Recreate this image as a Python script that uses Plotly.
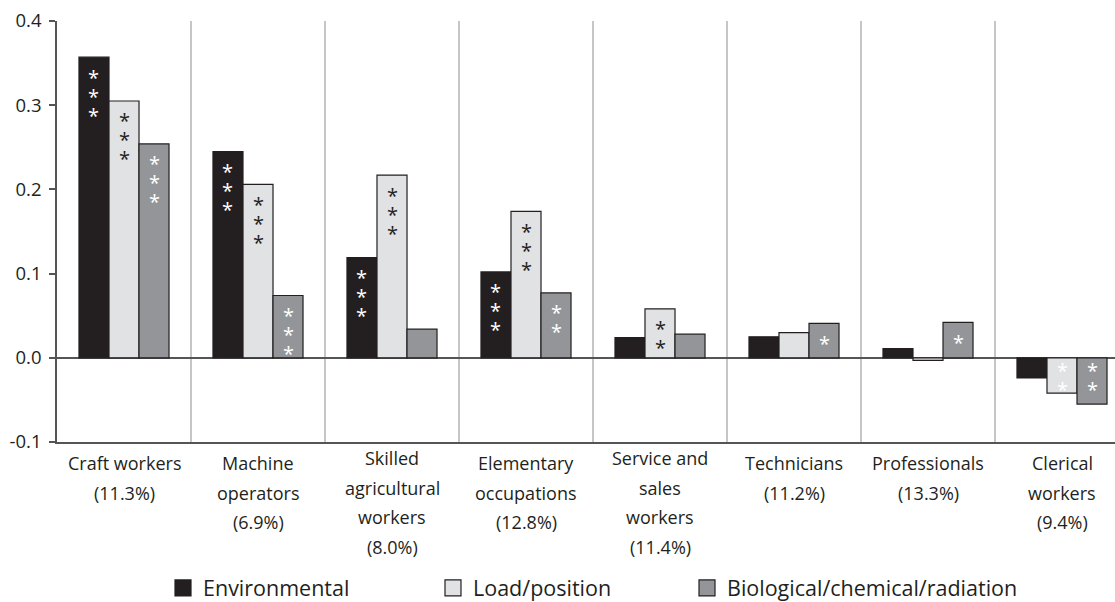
import plotly.graph_objects as go

# ---- data ----
categories = [
    ["Craft workers", "(11.3%)"],
    ["Machine", "operators", "(6.9%)"],
    ["Skilled", "agricultural", "workers", "(8.0%)"],
    ["Elementary", "occupations", "(12.8%)"],
    ["Service and", "sales", "workers", "(11.4%)"],
    ["Technicians", "(11.2%)"],
    ["Professionals", "(13.3%)"],
    ["Clerical", "workers", "(9.4%)"],
]
series_names = ["Environmental", "Load/position", "Biological/chemical/radiation"]
environmental = [0.357, 0.245, 0.119, 0.102, 0.024, 0.025, 0.011, -0.024]
load_position = [0.305, 0.206, 0.217, 0.174, 0.058, 0.030, -0.003, -0.042]
biological = [0.254, 0.074, 0.034, 0.077, 0.028, 0.041, 0.042, -0.055]
sig_environmental = ["***", "***", "***", "***", "", "", "", ""]
sig_load_position = ["***", "***", "***", "***", "**", "", "", "**"]
sig_biological = ["***", "***", "", "**", "", "*", "*", "**"]
y_tickvals = [-0.1, 0.0, 0.1, 0.2, 0.3, 0.4]
y_ticktext = ["-0.1", "0.0", "0.1", "0.2", "0.3", "0.4"]

# ---- styling ----
FONT = "Open Sans"
DARK = "#231f20"
AXIS = "#555555"
fills = ["#231f20", "#e1e2e4", "#939598"]
star_default = ["#ffffff", DARK, "#ffffff"]
white_star_override = {(7, 1)}  # clerical load/position stars drawn white

values = [environmental, load_position, biological]
sigs = [sig_environmental, sig_load_position, sig_biological]
n = len(categories)
xs = list(range(n))
bargap = 0.328
bw = (1 - bargap) / 3
legend_ids = ["legend", "legend2", "legend3"]

fig = go.Figure()
for j, (name, vals) in enumerate(zip(series_names, values)):
    fig.add_trace(go.Bar(
        x=xs, y=vals, name=name, showlegend=False,
        marker=dict(color=fills[j], line=dict(color=DARK, width=1.2)),
        hoverinfo="skip",
    ))
# legend entries (larger square swatches, as in the reference)
for j, name in enumerate(series_names):
    fig.add_trace(go.Scatter(
        x=[None], y=[None], mode="markers", name=name, legend=legend_ids[j],
        marker=dict(symbol="square", size=16, color=fills[j],
                    line=dict(color=DARK, width=1.2)),
        hoverinfo="skip",
    ))

annotations = []
# significance asterisks
for j in range(3):
    for i in range(n):
        s = sigs[j][i]
        if not s:
            continue
        v = values[j][i]
        col = "#ffffff" if (i, j) in white_star_override else star_default[j]
        base = v if v > 0 else 0.0
        first = 20 if v > 0 else 13
        for k in range(len(s)):
            annotations.append(dict(
                x=i + (j - 1) * bw, y=base, xref="x", yref="y",
                text="*", showarrow=False, yanchor="middle", xanchor="center",
                yshift=-(first + 19 * k),
                font=dict(family=FONT, size=20, color=col),
            ))

# category labels (multi-line)
for i, lines in enumerate(categories):
    top = 16 if len(lines) >= 4 else 21
    for k, line in enumerate(lines):
        annotations.append(dict(
            x=i, y=-0.1, xref="x", yref="y", text=line, showarrow=False,
            yanchor="middle", xanchor="center", yshift=-(top + 29.5 * k),
            font=dict(family=FONT, size=18, color=DARK),
        ))

W, H = 1115, 602
plot_l, plot_r, plot_t, plot_b = 57, 1115, 21, 442
cat_px = 134.0
x_max = -0.5 + (plot_r - plot_l) / cat_px

legend_common = dict(
    orientation="h", xref="container", yref="container",
    yanchor="middle", xanchor="left", y=1 - 588 / H,
    font=dict(family=FONT, size=21.5, color=DARK),
    bgcolor="rgba(0,0,0,0)", borderwidth=0,
)

fig.update_layout(
    width=W, height=H,
    margin=dict(l=plot_l, r=W - plot_r, t=plot_t, b=H - plot_b, autoexpand=False),
    paper_bgcolor="white", plot_bgcolor="white",
    barmode="group", bargap=bargap, bargroupgap=0,
    font=dict(family=FONT, color=DARK),
    showlegend=True,
    legend=dict(legend_common, x=163 / W),
    legend2=dict(legend_common, x=433 / W),
    legend3=dict(legend_common, x=687 / W),
    annotations=annotations,
    xaxis=dict(
        range=[-0.5, x_max], showline=True, linecolor=AXIS, linewidth=1.5,
        tickvals=[i + 0.5 for i in range(n - 1)], showticklabels=False,
        ticks="", showgrid=True, gridcolor="#c6c6c6", gridwidth=1.5,
        zeroline=False, fixedrange=True, automargin=False,
    ),
    yaxis=dict(
        range=[-0.1, 0.4], tickvals=y_tickvals, ticktext=y_ticktext,
        showline=True, linecolor=AXIS, linewidth=1.5,
        ticks="outside", ticklen=6, tickcolor=AXIS, tickwidth=1.5,
        ticklabelstandoff=4, automargin=False,
        showgrid=False, zeroline=True, zerolinecolor=AXIS, zerolinewidth=1.5,
        tickfont=dict(family=FONT, size=18.5, color=DARK), fixedrange=True,
    ),
)

fig.write_html(
    "out.html",
    config={"displayModeBar": False},
    post_script="document.body.style.margin='0';document.body.style.padding='0';",
)
